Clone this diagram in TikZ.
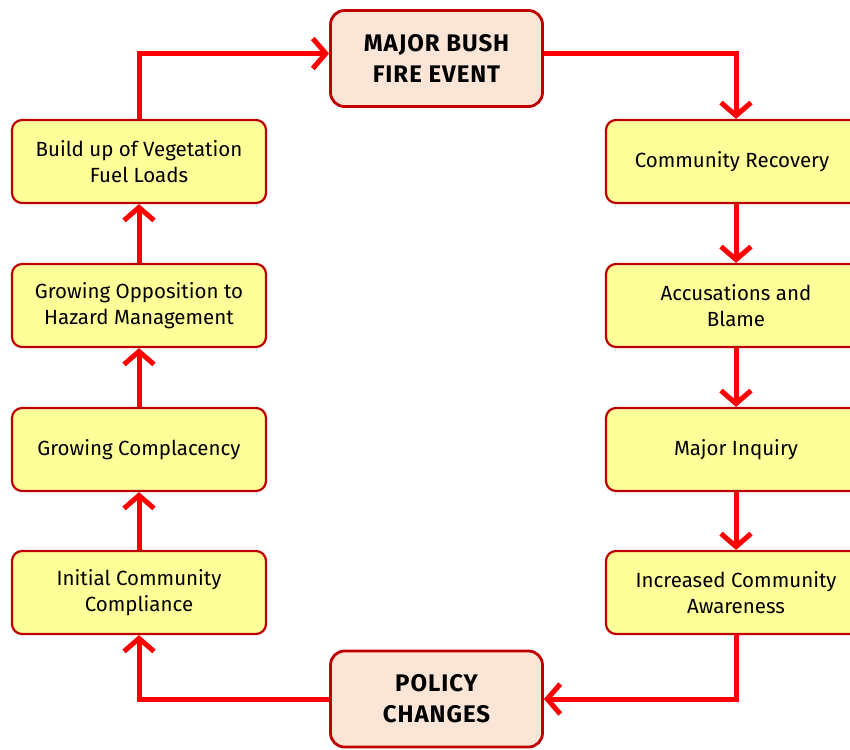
\documentclass[tikz,border=0pt]{standalone}
\usepackage{fontspec}
\setmainfont{Fira Sans}
\usetikzlibrary{arrows.meta}
\definecolor{boxedge}{HTML}{C00000}
\definecolor{stagefill}{HTML}{FFFF99}
\definecolor{eventfill}{HTML}{FBE5D6}
\definecolor{flowred}{HTML}{FF0000}
\tikzset{
  x=1pt, y=-1pt,
  stage/.style={draw=boxedge, line width=2.2pt, fill=stagefill, rounded corners=10pt,
    minimum width=254pt, minimum height=83pt, align=center, inner sep=2pt,
    font=\fontsize{20.5}{26}\selectfont},
  event/.style={draw=boxedge, line width=2.8pt, fill=eventfill, rounded corners=14pt,
    minimum width=212pt, minimum height=96pt, align=center, inner sep=2pt,
    font=\fontsize{24}{31}\selectfont\bfseries\addfontfeature{LetterSpace=4}},
  flow/.style={draw=flowred, line width=5pt,
    -{Straight Barb[length=13pt,width=30pt,line width=5pt]}}
}
\begin{document}
\begin{tikzpicture}
\useasboundingbox (0,0) rectangle (850,749);
% central events
\node[event] (fire) at (436.5,58.5) {MAJOR BUSH\\FIRE EVENT};
\node[event] (policy) at (436.5,699) {POLICY\\CHANGES};
% left column (rising)
\node[stage] (fuel) at (139,161.5) {Build up of Vegetation\\Fuel Loads};
\node[stage] (oppo) at (139,305.5) {Growing Opposition to\\Hazard Management};
\node[stage] (compl) at (139,449.5) {Growing Complacency};
\node[stage] (init) at (139,592.5) {Initial Community\\Compliance};
% right column (falling), running past the right edge
\node[stage, minimum width=260pt] (recov) at (736,161.5) {\hspace*{-8pt}Community Recovery};
\node[stage, minimum width=260pt] (blame) at (736,305.5) {Accusations and\\Blame};
\node[stage, minimum width=260pt] (inq) at (736,449.5) {Major Inquiry};
\node[stage, minimum width=260pt] (aware) at (736,592.5) {Increased Community\\Awareness};
% cycle connectors
\draw[flow] (fuel.north) |- ([yshift=5pt]fire.west);
\draw[flow] ([yshift=5pt]fire.east) -| (recov.north);
\draw[flow] (recov) -- (blame);
\draw[flow] (blame) -- (inq);
\draw[flow] (inq) -- (aware);
\draw[flow] (aware.south) |- (policy.east);
\draw[flow] (policy.west) -| (init.south);
\draw[flow] (init) -- (compl);
\draw[flow] (compl) -- (oppo);
\draw[flow] (oppo) -- (fuel);
\end{tikzpicture}
\end{document}
